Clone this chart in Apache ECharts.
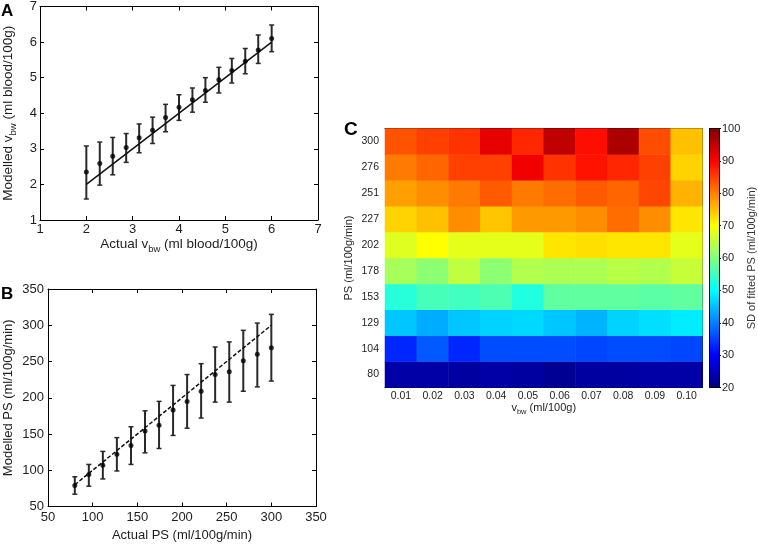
<!DOCTYPE html>
<html><head><meta charset="utf-8">
<script src="https://cdn.jsdelivr.net/npm/echarts@6/dist/echarts.min.js"></script>
<style>html,body{margin:0;padding:0;background:#fff}#c{width:758px;height:544px}</style>
</head><body><div id="c"></div>
<script>
// ---------- Panel A data ----------
const aX    = [2.00, 2.29, 2.57, 2.86, 3.14, 3.43, 3.71, 4.00, 4.29, 4.57, 4.86, 5.14, 5.43, 5.71, 6.00];
const aMean = [2.35, 2.59, 2.79, 3.04, 3.31, 3.52, 3.88, 4.17, 4.38, 4.64, 4.94, 5.20, 5.46, 5.78, 6.10];
const aLow  = [1.59, 1.98, 2.27, 2.62, 2.89, 3.15, 3.48, 3.80, 4.03, 4.31, 4.57, 4.85, 5.11, 5.40, 5.73];
const aHigh = [3.08, 3.19, 3.32, 3.43, 3.70, 3.89, 4.25, 4.52, 4.71, 5.00, 5.29, 5.54, 5.82, 6.20, 6.48];
const aIdentity = [2, 6];
const aAxisRange = [1, 7, 1];

// ---------- Panel B data ----------
const bX    = [80, 95.7, 111.4, 127.1, 142.9, 158.6, 174.3, 190, 205.7, 221.4, 237.1, 252.9, 268.6, 284.3, 300];
const bMean = [79, 94, 107, 122, 134, 154, 162, 183, 195, 209, 232, 236, 251, 260, 269];
const bLow  = [67, 78, 88, 99, 108, 124, 130, 148, 158, 172, 194, 194, 209, 215, 223];
const bHigh = [91, 108, 126, 145, 160, 182, 195, 217, 232, 247, 270, 277, 293, 303, 315];
const bIdentity = [80, 300];
const bAxisRange = [50, 350, 50];

// ---------- Panel C data ----------
const cVbw = ['0.01', '0.02', '0.03', '0.04', '0.05', '0.06', '0.07', '0.08', '0.09', '0.10'];
const cPS  = ['80', '104', '129', '153', '178', '202', '227', '251', '276', '300'];
const sdPS80  = [23, 23, 22.5, 23, 22.5, 21.5, 22.5, 22.5, 23, 23];
const sdPS104 = [33, 37, 33, 36, 36, 36, 35.5, 36, 36, 35.5];
const sdPS129 = [45.5, 43.5, 45.5, 46.5, 47, 45.5, 44, 46.5, 47.5, 48.5];
const sdPS153 = [53, 55.5, 55, 56, 52.5, 57.5, 57.5, 57.5, 57, 57.5];
const sdPS178 = [63, 61, 65, 61, 64, 63.5, 63.5, 64.5, 64, 65.5];
const sdPS202 = [67.5, 70, 68, 68, 68, 72, 72.5, 72, 72, 68];
const sdPS227 = [73.5, 75, 79, 74.5, 78, 78, 79, 81.5, 79, 72];
const sdPS251 = [77.5, 79, 80.5, 83, 80.5, 81.5, 83, 82, 84.5, 76];
const sdPS276 = [80.5, 82, 85, 85, 91, 86, 88.5, 87, 85, 73.5];
const sdPS300 = [83.5, 85, 86, 92, 87, 95, 89, 96.5, 84, 75];
const sdRows = [sdPS80, sdPS104, sdPS129, sdPS153, sdPS178, sdPS202, sdPS227, sdPS251, sdPS276, sdPS300];
const cbRange = [20, 100, 10];
const jetColors = ['#000080', '#0000ff', '#0080ff', '#00ffff', '#80ff80', '#ffff00', '#ff8000', '#ff0000', '#800000'];

// ---------- helpers ----------
const FONT = '"Liberation Sans", Arial, Helvetica, sans-serif';
const TXT = '#1e1e1e';

function valAxis(grid, pos, range, showLabel, fs, margin, extra) {
  return Object.assign({
    type: 'value', gridIndex: grid, position: pos,
    min: range[0], max: range[1], interval: range[2],
    axisLine: { show: true, onZero: false, lineStyle: { color: '#000', width: 1 } },
    axisTick: { show: true, inside: true, length: 4, lineStyle: { color: '#000', width: 1 } },
    splitLine: { show: false },
    axisLabel: { show: showLabel, color: TXT, fontSize: fs, margin: margin, fontFamily: FONT }
  }, extra || {});
}
function catAxis(grid, pos, cats, showLabel, fs, margin, extra) {
  return Object.assign({
    type: 'category', gridIndex: grid, position: pos, data: cats, boundaryGap: true,
    axisLine: { show: true, onZero: false, lineStyle: { color: '#000', width: 1 } },
    axisTick: { show: true, inside: true, alignWithLabel: true, length: 3, lineStyle: { color: '#000', width: 1 } },
    splitLine: { show: false },
    axisLabel: { show: showLabel, color: TXT, fontSize: fs, margin: margin, fontFamily: FONT, interval: 0 }
  }, extra || {});
}
function errorBarItem(capHalf) {
  return function (params, api) {
    const x = api.value(0);
    const lo = api.coord([x, api.value(1)]);
    const hi = api.coord([x, api.value(2)]);
    const st = { stroke: '#2a2a2a', lineWidth: 2 };
    const cs = { stroke: '#2a2a2a', lineWidth: 1.5 };
    return { type: 'group', children: [
      { type: 'line', shape: { x1: lo[0], y1: lo[1], x2: hi[0], y2: hi[1] }, style: st },
      { type: 'line', shape: { x1: lo[0] - capHalf, y1: lo[1], x2: lo[0] + capHalf, y2: lo[1] }, style: cs },
      { type: 'line', shape: { x1: hi[0] - capHalf, y1: hi[1], x2: hi[0] + capHalf, y2: hi[1] }, style: cs }
    ]};
  };
}
const subRich = (fs, sfs, lh) => ({
  n: { fontSize: fs, color: TXT, fontFamily: FONT, lineHeight: lh, verticalAlign: 'top' },
  s: { fontSize: sfs, color: TXT, fontFamily: FONT, lineHeight: lh, verticalAlign: 'bottom' }
});

const heatData = [];
sdRows.forEach((row, yi) => row.forEach((v, xi) => heatData.push([xi, yi, v])));

const chart = echarts.init(document.getElementById('c'), null, { renderer: 'canvas' });
chart.setOption({
  animation: false,
  backgroundColor: '#fff',
  textStyle: { fontFamily: FONT },
  title: [
    { text: 'A', left: 1, top: 3, padding: 0, textStyle: { fontSize: 17, fontWeight: 'bold', color: '#000', fontFamily: FONT } },
    { text: 'B', left: 1, top: 286, padding: 0, textStyle: { fontSize: 17, fontWeight: 'bold', color: '#000', fontFamily: FONT } },
    { text: 'C', left: 344, top: 120, padding: 0, textStyle: { fontSize: 19, fontWeight: 'bold', color: '#000', fontFamily: FONT } }
  ],
  grid: [
    { left: 39, top: 6, width: 279, height: 214 },
    { left: 48, top: 289, width: 268, height: 217.5 },
    { left: 385, top: 128.5, width: 317.5, height: 259 },
    { left: 709.5, top: 128.5, width: 10.5, height: 259 }
  ],
  visualMap: [{
    type: 'continuous', show: false, seriesIndex: 6, dimension: 2,
    min: cbRange[0], max: cbRange[1], inRange: { color: jetColors }
  }],
  xAxis: [
    valAxis(0, 'bottom', aAxisRange, true, 13, 3, {
      name: '{n|Actual v}{s|bw}{n| (ml blood/100g)}', nameLocation: 'middle', nameGap: 15,
      nameTextStyle: { rich: subRich(13.5, 9.5, 17) }
    }),
    valAxis(0, 'top', aAxisRange, false, 13, 3),
    valAxis(1, 'bottom', bAxisRange, true, 13, 4, {
      name: 'Actual PS (ml/100g/min)', nameLocation: 'middle', nameGap: 22,
      nameTextStyle: { fontSize: 13, color: TXT, fontFamily: FONT }
    }),
    valAxis(1, 'top', bAxisRange, false, 13, 4),
    catAxis(2, 'bottom', cVbw, true, 10.5, 3, {
      name: '{n|v}{s|bw}{n| (ml/100g)}', nameLocation: 'middle', nameGap: 14,
      nameTextStyle: { rich: subRich(11, 7.5, 14) }
    }),
    catAxis(2, 'top', cVbw, false, 10.5, 3),
    catAxis(3, 'bottom', [''], false, 10, 3, { axisTick: { show: false }, z: 10 }),
    catAxis(3, 'top', [''], false, 10, 3, { axisTick: { show: false }, z: 10 })
  ],
  yAxis: [
    valAxis(0, 'left', aAxisRange, true, 13, 3, {
      name: '{n|Modelled v}{s|bw}{n| (ml blood/100g)}', nameLocation: 'middle', nameGap: 22, nameRotate: 90,
      nameTextStyle: { rich: subRich(13.5, 9.5, 17) }
    }),
    valAxis(0, 'right', aAxisRange, false, 13, 3),
    valAxis(1, 'left', bAxisRange, true, 13, 4, {
      name: 'Modelled PS (ml/100g/min)', nameLocation: 'middle', nameGap: 33, nameRotate: 90,
      nameTextStyle: { fontSize: 13, color: TXT, fontFamily: FONT }
    }),
    valAxis(1, 'right', bAxisRange, false, 13, 4),
    catAxis(2, 'left', cPS, true, 10.5, 6, {
      name: 'PS (ml/100g/min)', nameLocation: 'middle', nameGap: 31, nameRotate: 90,
      nameTextStyle: { fontSize: 11, color: TXT, fontFamily: FONT }
    }),
    catAxis(2, 'right', cPS, false, 10.5, 6),
    valAxis(3, 'left', cbRange, false, 11, 3, { axisTick: { show: false }, z: 10 }),
    valAxis(3, 'right', cbRange, true, 11, 3, {
      z: 10, axisTick: { show: true, inside: false, length: 2, lineStyle: { color: '#000' } },
      name: 'SD of fitted PS (ml/100g/min)', nameLocation: 'middle', nameGap: 27, nameRotate: 90,
      nameTextStyle: { fontSize: 11, color: '#333', fontFamily: FONT }
    })
  ],
  series: [
    // Panel A
    { type: 'custom', xAxisIndex: 0, yAxisIndex: 0, renderItem: errorBarItem(2.5),
      encode: { x: 0, y: [1, 2] }, data: aX.map((x, i) => [x, aLow[i], aHigh[i]]), z: 2 },
    { type: 'scatter', xAxisIndex: 0, yAxisIndex: 0, symbol: 'circle', symbolSize: 5,
      itemStyle: { color: '#000' }, data: aX.map((x, i) => [x, aMean[i]]), z: 4 },
    { type: 'line', xAxisIndex: 0, yAxisIndex: 0, symbol: 'none',
      lineStyle: { color: '#111', width: 1.5 }, data: aIdentity.map(v => [v, v]), z: 3 },
    // Panel B
    { type: 'custom', xAxisIndex: 2, yAxisIndex: 2, renderItem: errorBarItem(2.5),
      encode: { x: 0, y: [1, 2] }, data: bX.map((x, i) => [x, bLow[i], bHigh[i]]), z: 2 },
    { type: 'scatter', xAxisIndex: 2, yAxisIndex: 2, symbol: 'circle', symbolSize: 5,
      itemStyle: { color: '#000' }, data: bX.map((x, i) => [x, bMean[i]]), z: 4 },
    { type: 'line', xAxisIndex: 2, yAxisIndex: 2, symbol: 'none',
      lineStyle: { color: '#111', width: 1.5, type: [4, 2] }, data: bIdentity.map(v => [v, v]), z: 3 },
    // Panel C heatmap
    { type: 'heatmap', xAxisIndex: 4, yAxisIndex: 4, data: heatData,
      itemStyle: { borderWidth: 0 }, emphasis: { disabled: true } },
    // Colorbar
    { type: 'bar', xAxisIndex: 6, yAxisIndex: 6, stack: 'cb', barWidth: '100%',
      itemStyle: { color: 'rgba(0,0,0,0)' }, data: [cbRange[0]], silent: true },
    { type: 'bar', xAxisIndex: 6, yAxisIndex: 6, stack: 'cb', barWidth: '100%', silent: true,
      itemStyle: { color: new echarts.graphic.LinearGradient(0, 1, 0, 0,
        jetColors.map((c, i) => ({ offset: i / (jetColors.length - 1), color: c }))) },
      data: [cbRange[1] - cbRange[0]] }
  ]
});
</script>
</body></html>
